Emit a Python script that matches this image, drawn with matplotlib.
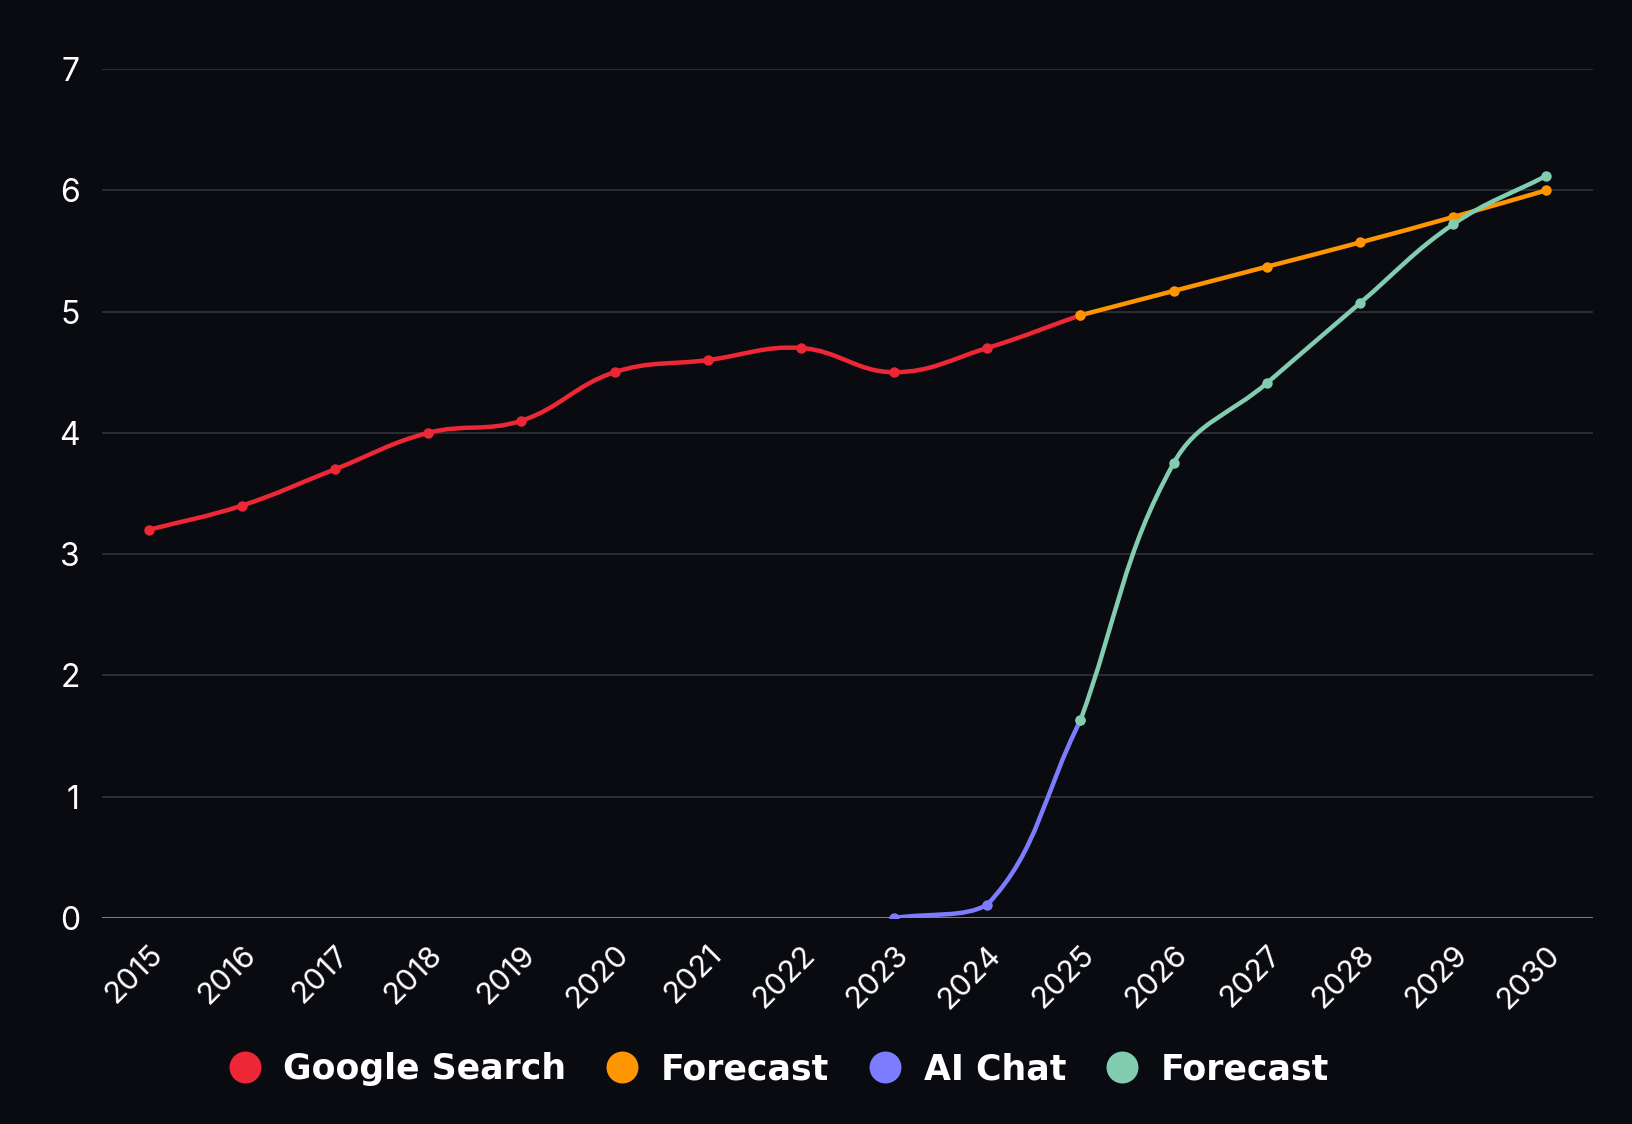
import numpy as np
import matplotlib
matplotlib.use("Agg")
from matplotlib import pyplot as plt
from matplotlib.path import Path
from matplotlib.patches import PathPatch
from matplotlib.lines import Line2D

years = [str(y) for y in range(2015, 2031)]

google_x = list(range(0, 11))          # 2015 .. 2025
google_y = [3.2, 3.4, 3.7, 4.0, 4.1, 4.5, 4.6, 4.7, 4.5, 4.7, 4.97]

google_fc_x = list(range(10, 16))      # 2025 .. 2030
google_fc_y = [4.97, 5.17, 5.37, 5.57, 5.78, 6.0]

ai_x = [8, 9, 10]                      # 2023 .. 2025
ai_y = [0.0, 0.11, 1.63]

ai_fc_x = list(range(10, 16))          # 2025 .. 2030
ai_fc_y = [1.63, 3.75, 4.41, 5.07, 5.72, 6.12]

labels = ["Google Search", "Forecast", "AI Chat", "Forecast"]
colors = ["#EE2737", "#FF9500", "#7C7CFF", "#82CDB0"]

bg = "#0A0B10"
plt.rcParams["font.family"] = ["Inter", "DejaVu Sans"]

fig = plt.figure(figsize=(16.32, 11.24), dpi=100, facecolor=bg)
ax = fig.add_axes([102 / 1632, 1 - 918 / 1124, (1593 - 102) / 1632, (918 - 69) / 1124])
ax.set_facecolor(bg)
ax.set_xlim(-0.5, 15.5)
ax.set_ylim(0, 7)


def spline(xs, ys, color, tension=0.4):
    # bezier through the points, control points worked out in pixel space
    # and kept inside the plot area
    pts = ax.transData.transform(np.column_stack([xs, ys]))
    _, ybot = ax.transData.transform((0, 0))
    _, ytop = ax.transData.transform((0, 7))
    n = len(pts)
    cps = []
    for i in range(n):
        p = pts[i]
        prev = pts[i - 1] if i > 0 else p
        nxt = pts[i + 1] if i < n - 1 else p
        d01 = np.hypot(*(p - prev))
        d12 = np.hypot(*(nxt - p))
        tot = d01 + d12
        fa = tension * d01 / tot if tot else 0
        fb = tension * d12 / tot if tot else 0
        c1 = p - fa * (nxt - prev)
        c2 = p + fb * (nxt - prev)
        c1[1] = min(max(c1[1], ybot), ytop)
        c2[1] = min(max(c2[1], ybot), ytop)
        cps.append((c1, c2))
    verts = [pts[0]]
    codes = [Path.MOVETO]
    for i in range(1, n):
        verts += [cps[i - 1][1], cps[i][0], pts[i]]
        codes += [Path.CURVE4] * 3
    verts = ax.transData.inverted().transform(np.array(verts))
    ax.add_patch(PathPatch(Path(verts, codes), fill=False, edgecolor=color,
                           lw=3.2, capstyle="round", joinstyle="round"))
    ax.plot(xs, ys, "o", color=color, markersize=7.5, markeredgewidth=0)


for v in range(1, 8):
    ax.axhline(v, color="#36373c", lw=1.1, zorder=0)
ax.axhline(0, color="#8a8a8e", lw=1.3, zorder=0)

spline(google_x, google_y, colors[0])
spline(google_fc_x, google_fc_y, colors[1])
spline(ai_x, ai_y, colors[2])
spline(ai_fc_x, ai_fc_y, colors[3])

for s in ax.spines.values():
    s.set_visible(False)
ax.set_yticks(range(0, 8))
ax.set_xticks(range(len(years)))
ax.set_xticklabels(years, rotation=45, ha="right", va="top", rotation_mode="anchor")
ax.tick_params(axis="both", length=0, colors="white", labelsize=22)
ax.tick_params(axis="y", labelsize=23, pad=16)
ax.tick_params(axis="x", pad=16)

handles = [Line2D([], [], ls="none", marker="o", markersize=23, color=c, markeredgewidth=0)
           for c in colors]
leg = fig.legend(handles, labels, loc="center", bbox_to_anchor=(778 / 1632, 1 - 1069 / 1124),
                 ncol=4, frameon=False, handlelength=1.0, handletextpad=0.62,
                 columnspacing=1.1,
                 prop={"family": "DejaVu Sans", "size": 25, "weight": "bold"})
for t in leg.get_texts():
    t.set_color("white")

fig.savefig("out.png", facecolor=bg)
